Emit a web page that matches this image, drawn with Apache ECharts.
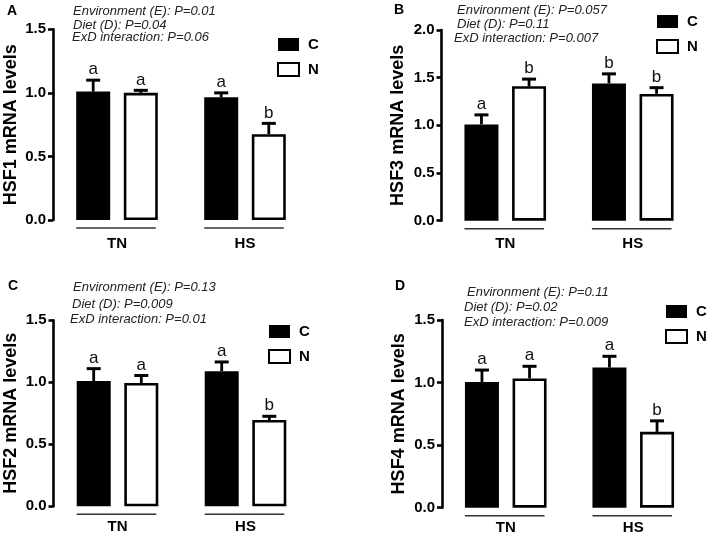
<!DOCTYPE html>
<html><head><meta charset="utf-8">
<script src="https://cdn.jsdelivr.net/npm/echarts@6/dist/echarts.min.js"></script>
<style>html,body{margin:0;padding:0;background:#fff}#c{width:708px;height:535px}</style>
</head><body><div id="c"></div>
<script>
// ---- data ----
const groups = ['TN', 'HS'];
const dietNames = ['C', 'N'];

// Panel A: HSF1
const hsf1C = [1.01, 0.965];
const hsf1N = [1.00, 0.675];
const hsf1ErrC = [0.09, 0.035];
const hsf1ErrN = [0.02, 0.085];
const hsf1LetC = ['a', 'a'];
const hsf1LetN = ['a', 'b'];
const hsf1Stats = ['Environment (E): P=0.01', 'Diet (D): P=0.04', 'ExD interaction: P=0.06'];

// Panel B: HSF3
const hsf3C = [1.01, 1.44];
const hsf3N = [1.41, 1.33];
const hsf3ErrC = [0.10, 0.10];
const hsf3ErrN = [0.075, 0.065];
const hsf3LetC = ['a', 'b'];
const hsf3LetN = ['b', 'b'];
const hsf3Stats = ['Environment (E): P=0.057', 'Diet (D): P=0.11', 'ExD interaction: P=0.007'];

// Panel C: HSF2
const hsf2C = [1.01, 1.09];
const hsf2N = [0.995, 0.696];
const hsf2ErrC = [0.10, 0.074];
const hsf2ErrN = [0.06, 0.03];
const hsf2LetC = ['a', 'a'];
const hsf2LetN = ['a', 'b'];
const hsf2Stats = ['Environment (E): P=0.13', 'Diet (D): P=0.009', 'ExD interaction: P=0.01'];

// Panel D: HSF4
const hsf4C = [1.005, 1.12];
const hsf4N = [1.033, 0.606];
const hsf4ErrC = [0.095, 0.09];
const hsf4ErrN = [0.097, 0.088];
const hsf4LetC = ['a', 'a'];
const hsf4LetN = ['a', 'b'];
const hsf4Stats = ['Environment (E): P=0.11', 'Diet (D): P=0.02', 'ExD interaction: P=0.009'];

// ---- layout / style ----
const FONT = '"Liberation Sans", Arial, sans-serif';
const BAR_W = 34, GAP = 0.4;
const OFF = BAR_W * (1 + GAP) / 2;

const panels = [
  { letter: 'A', yName: 'HSF1 mRNA levels', max: 1.5, C: hsf1C, N: hsf1N, eC: hsf1ErrC, eN: hsf1ErrN, lC: hsf1LetC, lN: hsf1LetN, stats: hsf1Stats,
    grid: { left: 53, top: 29.3, width: 256, height: 190.7 }, legend: { left: 277, top: 37 }, nameGap: 33,
    letterPos: [7, 11], statPos: [[73, 11.5], [73, 25], [72, 37]], xMargin: 16 },
  { letter: 'B', yName: 'HSF3 mRNA levels', max: 2.0, C: hsf3C, N: hsf3N, eC: hsf3ErrC, eN: hsf3ErrN, lC: hsf3LetC, lN: hsf3LetN, stats: hsf3Stats,
    grid: { left: 441.5, top: 30, width: 255, height: 190.7 }, legend: { left: 656, top: 14 }, nameGap: 34,
    letterPos: [394, 10.5], statPos: [[457, 10.5], [457, 24.5], [454, 38]], xMargin: 16 },
  { letter: 'C', yName: 'HSF2 mRNA levels', max: 1.5, C: hsf2C, N: hsf2N, eC: hsf2ErrC, eN: hsf2ErrN, lC: hsf2LetC, lN: hsf2LetN, stats: hsf2Stats,
    grid: { left: 53.5, top: 320.3, width: 256, height: 186 }, legend: { left: 268, top: 324 }, nameGap: 33,
    letterPos: [8, 286], statPos: [[73, 287], [72, 304], [70, 319]], xMargin: 13 },
  { letter: 'D', yName: 'HSF4 mRNA levels', max: 1.5, C: hsf4C, N: hsf4N, eC: hsf4ErrC, eN: hsf4ErrN, lC: hsf4LetC, lN: hsf4LetN, stats: hsf4Stats,
    grid: { left: 442, top: 320, width: 255, height: 187.7 }, legend: { left: 665, top: 304 }, nameGap: 34,
    letterPos: [395, 286.5], statPos: [[467, 292], [464, 307.5], [464, 322]], xMargin: 13 }
];

function errRender(offset, letters) {
  return function (params, api) {
    const idx = api.value(0);
    const base = api.coord([idx, api.value(1)]);
    const tip = api.coord([idx, api.value(1) + api.value(2)]);
    const x = base[0] + offset;
    return {
      type: 'group', children: [
        { type: 'line', shape: { x1: x, y1: base[1], x2: x, y2: tip[1] }, style: { stroke: '#000', lineWidth: 2.8 } },
        { type: 'line', shape: { x1: x - 7, y1: tip[1], x2: x + 7, y2: tip[1] }, style: { stroke: '#000', lineWidth: 3 } },
        { type: 'text', x: x, y: tip[1] - 2, style: { text: letters[params.dataIndex], font: '17px ' + FONT, fill: '#111', align: 'center', verticalAlign: 'bottom' } }
      ]
    };
  };
}
function underlineRender(params, api) {
  const idx = api.value(0);
  const p = api.coord([idx, 0]);
  const half = BAR_W + BAR_W * GAP / 2;
  return { type: 'line', shape: { x1: p[0] - half, y1: p[1] + 8, x2: p[0] + half - 2, y2: p[1] + 8 }, style: { stroke: '#333', lineWidth: 1.6 } };
}

const option = { animation: false, textStyle: { fontFamily: FONT }, grid: [], xAxis: [], yAxis: [], series: [], legend: [], graphic: [] };

panels.forEach((p, i) => {
  option.grid.push(Object.assign({ outerBoundsMode: 'none', containLabel: false }, p.grid));
  option.xAxis.push({
    gridIndex: i, type: 'category', data: groups,
    axisLine: { show: false }, axisTick: { show: false },
    axisLabel: { fontSize: 15, fontWeight: 'bold', color: '#000', margin: p.xMargin, fontFamily: FONT }
  });
  option.yAxis.push({
    gridIndex: i, type: 'value', min: 0, max: p.max, interval: 0.5,
    name: p.yName, nameLocation: 'middle', nameGap: p.nameGap,
    nameTextStyle: { fontSize: 18, fontWeight: 'bold', color: '#000', fontFamily: FONT },
    axisLine: { show: true, lineStyle: { color: '#000', width: 2.6 } },
    axisTick: { show: true, length: 5, lineStyle: { color: '#000', width: 2.6 } },
    axisLabel: { fontSize: 15, fontWeight: 'bold', color: '#000', margin: 7, fontFamily: FONT, formatter: v => v.toFixed(1) },
    splitLine: { show: false }
  });
  option.series.push({
    name: dietNames[0], type: 'bar', xAxisIndex: i, yAxisIndex: i, data: p.C,
    barWidth: BAR_W, barGap: (GAP * 100) + '%', itemStyle: { color: '#000' }
  });
  option.series.push({
    name: dietNames[1], type: 'bar', xAxisIndex: i, yAxisIndex: i, data: p.N,
    barWidth: BAR_W, barGap: (GAP * 100) + '%', itemStyle: { color: '#fff', borderColor: '#000', borderWidth: 2.6 }
  });
  option.series.push({
    type: 'custom', xAxisIndex: i, yAxisIndex: i, z: 5, clip: false,
    data: p.C.map((v, k) => [k, v, p.eC[k]]), encode: { x: 0, y: 1 },
    renderItem: errRender(-OFF, p.lC)
  });
  option.series.push({
    type: 'custom', xAxisIndex: i, yAxisIndex: i, z: 5, clip: false,
    data: p.N.map((v, k) => [k, v, p.eN[k]]), encode: { x: 0, y: 1 },
    renderItem: errRender(OFF, p.lN)
  });
  option.series.push({
    type: 'custom', xAxisIndex: i, yAxisIndex: i, z: 5, clip: false,
    data: groups.map((g, k) => [k, 0]), encode: { x: 0, y: 1 },
    renderItem: underlineRender
  });
  option.legend.push({
    data: dietNames, left: p.legend.left, top: p.legend.top, orient: 'vertical', padding: 0,
    itemWidth: 21, itemHeight: 13, itemGap: 10, icon: 'rect', selectedMode: false,
    textStyle: { fontSize: 15, fontWeight: 'bold', color: '#000', lineHeight: 13, fontFamily: FONT, padding: [0, 0, 0, 4] }
  });
  option.graphic.push({
    type: 'text', x: p.letterPos[0], y: p.letterPos[1],
    style: { text: p.letter, font: 'bold 14px ' + FONT, fill: '#000', verticalAlign: 'middle' }
  });
  p.stats.forEach((s, k) => {
    option.graphic.push({
      type: 'text', x: p.statPos[k][0], y: p.statPos[k][1],
      style: { text: s, font: 'italic 13px ' + FONT, fill: '#222', verticalAlign: 'middle' }
    });
  });
});

const chart = echarts.init(document.getElementById('c'), null, { renderer: 'canvas' });
chart.setOption(option);
</script>
</body></html>
